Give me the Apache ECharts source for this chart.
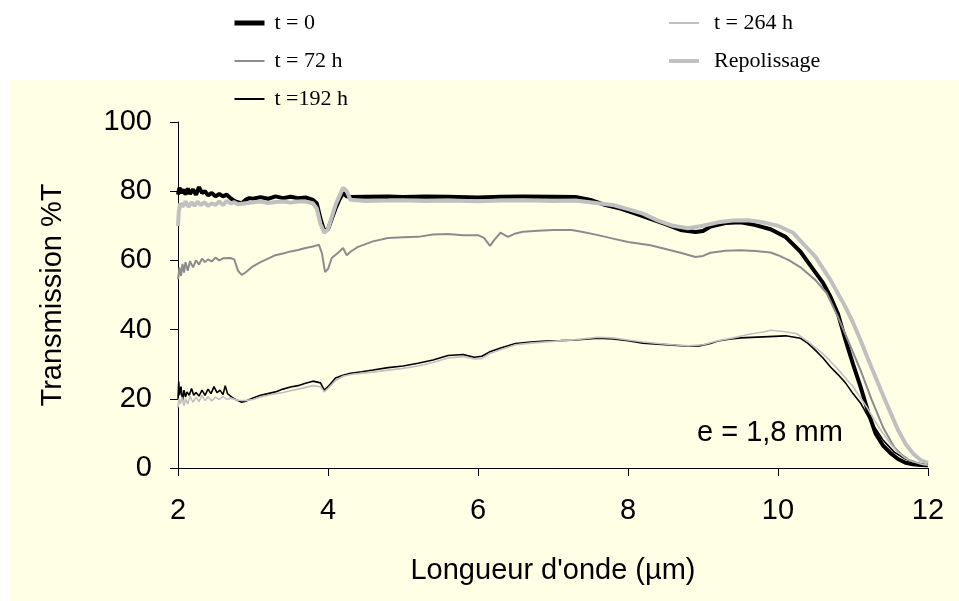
<!DOCTYPE html>
<html><head><meta charset="utf-8">
<script src="https://cdn.jsdelivr.net/npm/echarts@6/dist/echarts.min.js"></script>
<style>html,body{margin:0;padding:0;background:#fff}#c{width:959px;height:601px}</style>
</head><body><div id="c"></div>
<script>
// Series names
const seriesNames = ['t = 0', 't = 72 h', 't =192 h', 't = 264 h', 'Repolissage'];
// Axis ticks
const xTicks = [2, 4, 6, 8, 10, 12];
const yTicks = [0, 20, 40, 60, 80, 100];
// [wavelength µm, transmission %]
const t0 = [[2.0,79],[2.02,81],[2.05,79.5],[2.08,80.5],[2.1,79],[2.13,80.8],[2.16,79.2],[2.2,80.5],[2.24,79],[2.28,81.2],[2.32,79.5],[2.36,80],[2.4,78.8],[2.45,79.5],[2.5,78.5],[2.55,79.2],[2.6,78.5],[2.65,79],[2.7,78],[2.75,77.2],[2.8,76.8],[2.85,76.5],[2.9,77.5],[2.95,78],[3.0,77.8],[3.1,78.3],[3.2,77.8],[3.3,78.5],[3.4,78],[3.5,78.4],[3.6,78],[3.7,78.2],[3.8,77.5],[3.85,76.5],[3.9,72],[3.95,68.5],[4.0,69],[4.05,72],[4.1,75],[4.15,77.5],[4.2,79.5],[4.25,78.5],[4.3,78.3],[4.5,78.4],[4.8,78.5],[5.0,78.3],[5.3,78.5],[5.6,78.4],[6.0,78.2],[6.3,78.4],[6.6,78.5],[7.0,78.4],[7.3,78.3],[7.5,77.5],[7.7,76],[7.9,75],[8.1,73.5],[8.3,72],[8.5,70.5],[8.7,68.8],[8.9,68.2],[9.0,68.5],[9.1,69.8],[9.3,70.8],[9.5,71],[9.7,70.2],[9.9,69],[10.1,66.8],[10.3,62.5],[10.45,58],[10.6,53.5],[10.7,49.5],[10.8,44.5],[10.9,37],[11.0,30],[11.1,23.5],[11.2,16.3],[11.3,10],[11.4,6.5],[11.5,4.3],[11.6,2.6],[11.7,1.5],[11.8,1.1],[11.9,0.9],[12.0,0.8]];
const t72 = [[2.0,54.5],[2.02,58],[2.04,55.5],[2.06,59],[2.08,56.5],[2.1,59.5],[2.13,57],[2.16,59.8],[2.2,58],[2.24,60],[2.28,58.8],[2.32,60.5],[2.36,59.5],[2.4,60.3],[2.45,59.7],[2.5,60.8],[2.55,60],[2.6,60.6],[2.7,60.7],[2.75,60.3],[2.8,57],[2.85,55.8],[2.9,56.5],[3.0,58.3],[3.1,59.5],[3.2,60.5],[3.3,61.5],[3.4,62],[3.5,62.6],[3.6,63],[3.7,63.6],[3.8,64],[3.88,64.5],[3.92,62],[3.96,56.6],[4.0,57.5],[4.05,60.7],[4.15,62.5],[4.2,63.6],[4.25,61.5],[4.3,62.5],[4.4,63.9],[4.6,65.5],[4.8,66.5],[5.0,66.7],[5.2,66.8],[5.4,67.5],[5.6,67.6],[5.8,67.3],[6.0,67.3],[6.08,66.5],[6.16,64.2],[6.22,66],[6.3,68],[6.4,66.8],[6.5,67.8],[6.6,68.3],[6.8,68.6],[7.0,68.8],[7.25,68.8],[7.4,68.2],[7.6,67.3],[7.8,66.3],[8.0,65.3],[8.3,64.4],[8.5,63.3],[8.7,62.2],[8.9,61],[9.0,61.3],[9.1,62.2],[9.3,62.8],[9.5,62.9],[9.7,62.7],[9.9,62.3],[10.0,61.5],[10.15,60],[10.3,58],[10.5,54.3],[10.65,50.5],[10.8,43.6],[10.95,36],[11.1,28.3],[11.25,19.7],[11.4,11.8],[11.55,6],[11.65,3.8],[11.75,2.3],[11.9,1.2],[12.0,0.8]];
const t192 = [[2.0,20],[2.01,25],[2.02,21],[2.04,23.5],[2.06,19.5],[2.08,22.5],[2.1,20.5],[2.12,22],[2.15,21],[2.18,23],[2.21,21],[2.24,21.8],[2.28,20.8],[2.32,22.5],[2.36,21],[2.4,22.8],[2.44,21.5],[2.48,23.5],[2.52,21.8],[2.56,22.5],[2.6,21.2],[2.63,23.8],[2.66,21.5],[2.7,20.8],[2.75,20],[2.8,19.5],[2.85,19],[2.9,19.3],[3.0,20.2],[3.1,21],[3.2,21.5],[3.3,22],[3.4,22.8],[3.5,23.4],[3.6,23.8],[3.7,24.5],[3.8,25.1],[3.9,24.6],[3.95,22.5],[4.0,23.5],[4.1,26],[4.2,26.8],[4.3,27.4],[4.45,27.8],[4.6,28.3],[4.8,29],[5.0,29.5],[5.2,30.3],[5.4,31.2],[5.6,32.5],[5.8,32.8],[5.95,32],[6.05,32.3],[6.15,33.5],[6.3,34.7],[6.5,36],[6.7,36.4],[6.9,36.7],[7.1,36.8],[7.3,37],[7.6,37.5],[7.8,37.3],[8.0,36.8],[8.2,36.1],[8.4,35.8],[8.6,35.5],[8.8,35.2],[8.95,35.3],[9.1,36],[9.2,36.7],[9.35,37.2],[9.5,37.6],[9.8,37.9],[10.1,38.2],[10.3,37.5],[10.4,36],[10.5,34],[10.6,31.8],[10.7,29.2],[10.8,27],[10.9,24.6],[11.0,21.5],[11.1,18.8],[11.25,13],[11.4,8.1],[11.55,4.6],[11.7,2.6],[11.85,1.4],[12.0,0.8]];
const t264 = [[2.0,17.5],[2.01,20],[2.03,18.5],[2.05,20.5],[2.08,18],[2.1,20],[2.13,18.5],[2.16,20.8],[2.2,19],[2.24,20.5],[2.28,19.2],[2.32,21],[2.36,19.5],[2.4,20.6],[2.45,19.4],[2.5,20.5],[2.55,19.8],[2.6,20.7],[2.65,19.8],[2.7,20.2],[2.8,19.6],[2.9,19.5],[3.0,19.8],[3.1,20.5],[3.2,21],[3.3,21.5],[3.4,21.8],[3.5,22.3],[3.6,22.8],[3.7,23.3],[3.8,23.8],[3.9,23.5],[3.95,22],[4.0,23],[4.1,25.2],[4.2,26.5],[4.3,27],[4.5,27.5],[4.7,28],[5.0,28.8],[5.2,29.5],[5.4,30.5],[5.6,31.8],[5.8,32.2],[5.95,31.5],[6.05,31.6],[6.15,33],[6.3,34.2],[6.5,35.6],[6.7,36.1],[7.0,36.6],[7.3,37.1],[7.6,37.8],[7.8,37.6],[8.0,37],[8.2,36.4],[8.4,36],[8.6,35.6],[8.8,35.3],[9.0,35.6],[9.2,36.8],[9.4,37.6],[9.6,38.6],[9.8,39.3],[9.9,39.8],[10.1,39.4],[10.25,38.8],[10.4,36.5],[10.5,34.8],[10.6,33],[10.7,30.8],[10.8,28.5],[10.9,26],[11.0,23.5],[11.1,20.3],[11.2,17],[11.3,13.3],[11.4,10],[11.5,7],[11.6,4.5],[11.7,2.8],[11.8,1.8],[11.9,1.2],[12.0,0.8]];
const repol = [[2.0,70],[2.01,74],[2.03,76.5],[2.06,75.5],[2.1,77],[2.14,75.5],[2.18,76.8],[2.22,75.8],[2.26,77],[2.3,76],[2.35,76.8],[2.4,75.8],[2.45,76.5],[2.5,76],[2.55,77],[2.6,76],[2.65,77.2],[2.7,76.5],[2.75,76.8],[2.8,76.2],[2.9,76.5],[3.0,76.8],[3.1,77],[3.2,76.6],[3.3,76.9],[3.4,77],[3.5,76.7],[3.6,77],[3.7,77],[3.8,76.5],[3.85,75],[3.9,70.5],[3.95,68],[4.0,69],[4.05,72.5],[4.1,76],[4.15,78.5],[4.2,81],[4.25,80],[4.3,77.5],[4.5,77.2],[4.8,77.3],[5.0,77.4],[5.3,77.2],[5.6,77.3],[6.0,77.1],[6.3,77.3],[6.6,77.4],[7.0,77.2],[7.3,77.3],[7.6,76.5],[7.8,76],[8.0,74.8],[8.2,73.5],[8.4,71.5],[8.6,70],[8.8,69.3],[9.0,70],[9.2,71],[9.4,71.5],[9.6,71.6],[9.8,71],[10.0,70],[10.2,68],[10.35,64.5],[10.5,61],[10.7,54.3],[10.9,46.5],[11.0,42],[11.1,37],[11.2,31.5],[11.3,26.3],[11.4,21],[11.5,16],[11.6,11],[11.7,7],[11.8,4.2],[11.9,2.3],[12.0,1.5]];

const chart = echarts.init(document.getElementById('c'), null, {renderer: 'canvas'});
const sansFont = 'Liberation Sans, Arial, sans-serif';
const serifFont = 'Liberation Serif, Times New Roman, serif';
function mk(name, data, color, width) {
  return {name: name, type: 'line', data: data, symbol: 'none', showSymbol: false,
    lineStyle: {color: color, width: width}, itemStyle: {color: color},
    silent: true, animation: false, z: 2};
}
const dataSets = [t0, t72, t192, t264, repol];
const colors = ['#000000', '#8c8c8c', '#000000', '#c0c0c0', '#c0c0c0'];
const widths = [4, 2, 1.6, 1.6, 4];
const legendWidths = [5, 2, 2, 2, 4];
const series = seriesNames.map((n, i) => mk(n, dataSets[i], colors[i], widths[i]));

function legendCommon(padLeft) {
  return {orient: 'vertical', itemWidth: 30, itemHeight: 14, itemGap: 14, padding: 0,
    textStyle: {fontFamily: serifFont, fontSize: 22, color: '#000', lineHeight: 24, padding: [0,0,0,padLeft]},
    selectedMode: false};
}
function legendItem(i) {
  return {name: seriesNames[i], lineStyle: {color: colors[i], width: legendWidths[i]}, itemStyle: {color: colors[i], opacity: 0}};
}

chart.setOption({
  backgroundColor: '#ffffff',
  animation: false,
  graphic: [
    {type: 'rect', left: 9, top: 80, shape: {width: 950, height: 521}, style: {fill: '#ffffe6'}, z: -10, silent: true},
    {type: 'text', left: 697, top: 418, style: {text: 'e = 1,8 mm', font: '29px ' + sansFont, fill: '#000'}, z: 10}
  ],
  legend: [
    Object.assign(legendCommon(5), {left: 232, top: 11, data: [0,1,2].map(legendItem)}),
    Object.assign(legendCommon(10), {left: 667, top: 11, data: [3,4].map(legendItem)})
  ],
  grid: {left: 178, right: 31, top: 122, bottom: 133, containLabel: false},
  xAxis: {type: 'value', min: xTicks[0], max: xTicks[xTicks.length-1], interval: 2,
    name: "Longueur d'onde (µm)", nameLocation: 'middle', nameGap: 88,
    nameTextStyle: {fontFamily: sansFont, fontSize: 29, color: '#000'},
    axisLine: {show: true, onZero: false, lineStyle: {color: '#000', width: 1}},
    axisTick: {show: true, inside: false, length: 8, lineStyle: {color: '#000'}},
    axisLabel: {fontFamily: sansFont, fontSize: 29, color: '#000', margin: 28},
    splitLine: {show: false}},
  yAxis: {type: 'value', min: yTicks[0], max: yTicks[yTicks.length-1], interval: 20,
    name: 'Transmission %T', nameLocation: 'middle', nameGap: 111,
    nameTextStyle: {fontFamily: sansFont, fontSize: 29, color: '#000'},
    axisLine: {show: true, onZero: false, lineStyle: {color: '#000', width: 1}},
    axisTick: {show: true, inside: false, length: 8, lineStyle: {color: '#000'}},
    axisLabel: {fontFamily: sansFont, fontSize: 29, color: '#000', margin: 26},
    splitLine: {show: false}},
  series: series
});
</script></body></html>
